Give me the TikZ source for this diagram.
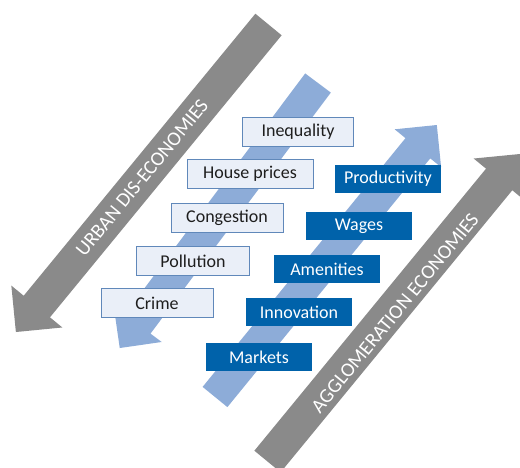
\documentclass[tikz,border=0pt]{standalone}
\usepackage{fontspec}
\setmainfont{Carlito}
\usepackage{tikz}
\definecolor{arrowgray}{RGB}{138,138,138}
\definecolor{bandblue}{RGB}{141,172,216}
\definecolor{boxblue}{RGB}{0,98,170}
\definecolor{boxpale}{RGB}{234,239,248}
\definecolor{edgeblue}{RGB}{96,136,186}
\definecolor{textgray}{RGB}{30,30,30}

\begin{document}
\begin{tikzpicture}[
x=1pt, y=1pt,
every node/.style={font=\fontsize{18}{20}\selectfont, text centered, inner sep=0pt},
pale_box/.style={rectangle, minimum width=112pt, minimum height=29pt, draw=edgeblue, line width=0.8pt, fill=boxpale, text=textgray},
dark_box/.style={rectangle, minimum width=106pt, minimum height=28pt, fill=boxblue, text=white},
arrow_label/.style={font=\fontsize{20}{24}\selectfont, text=white, rotate=50.6}
]

\clip (0,0) rectangle (520,467);

% Grey arrow: dis-economies (down-left)

\begin{scope}[shift={(268.5,442.5)}, rotate=230.6]
\fill[arrowgray] (0,-17) -- (365,-17) -- (365,-33) -- (398,0) -- (365,33) -- (365,17) -- (0,17) -- cycle;
\end{scope}

\node[arrow_label] (UD) at (142,289) {URBAN DIS-ECONOMIES};

% Grey arrow: agglomeration (up-right)

\begin{scope}[shift={(267.5,5.5)}, rotate=50.6]
\fill[arrowgray] (0,-17) -- (365,-17) -- (365,-33) -- (398,0) -- (365,33) -- (365,17) -- (0,17) -- cycle;
\end{scope}

\node[arrow_label] (AE) at (395,154) {AGGLOMERATION ECONOMIES};

% Light blue bands

\begin{scope}[shift={(318,384)}, rotate=233.2]
\fill[bandblue] (0,-16) -- (301,-16) -- (301,-30) -- (331,0) -- (301,30) -- (301,16) -- (0,16) -- cycle;
\end{scope}

\begin{scope}[shift={(215,70)}, rotate=50.8]
\fill[bandblue] (0,-16) -- (321,-16) -- (321,-30) -- (351,0) -- (321,30) -- (321,16) -- (0,16) -- cycle;
\end{scope}

% Dis-economies boxes

\node[pale_box, minimum width=111pt] (D5) at (298,335) {Inequality};

\node[pale_box, minimum width=126pt] (D4) at (250,293) {House prices};

\node[pale_box] (D3) at (227,249) {Congestion};

\node[pale_box, minimum width=113pt] (D2) at (193,206) {Pollution};

\node[pale_box] (D1) at (157,164) {Crime};

% Agglomeration boxes

\node[dark_box] (A5) at (388,288) {Productivity};

\node[dark_box] (A4) at (359,241) {Wages};

\node[dark_box] (A3) at (327,198) {Amenities};

\node[dark_box] (A2) at (299,155) {Innovation};

\node[dark_box] (A1) at (259,110) {Markets};

\end{tikzpicture}
\end{document}
